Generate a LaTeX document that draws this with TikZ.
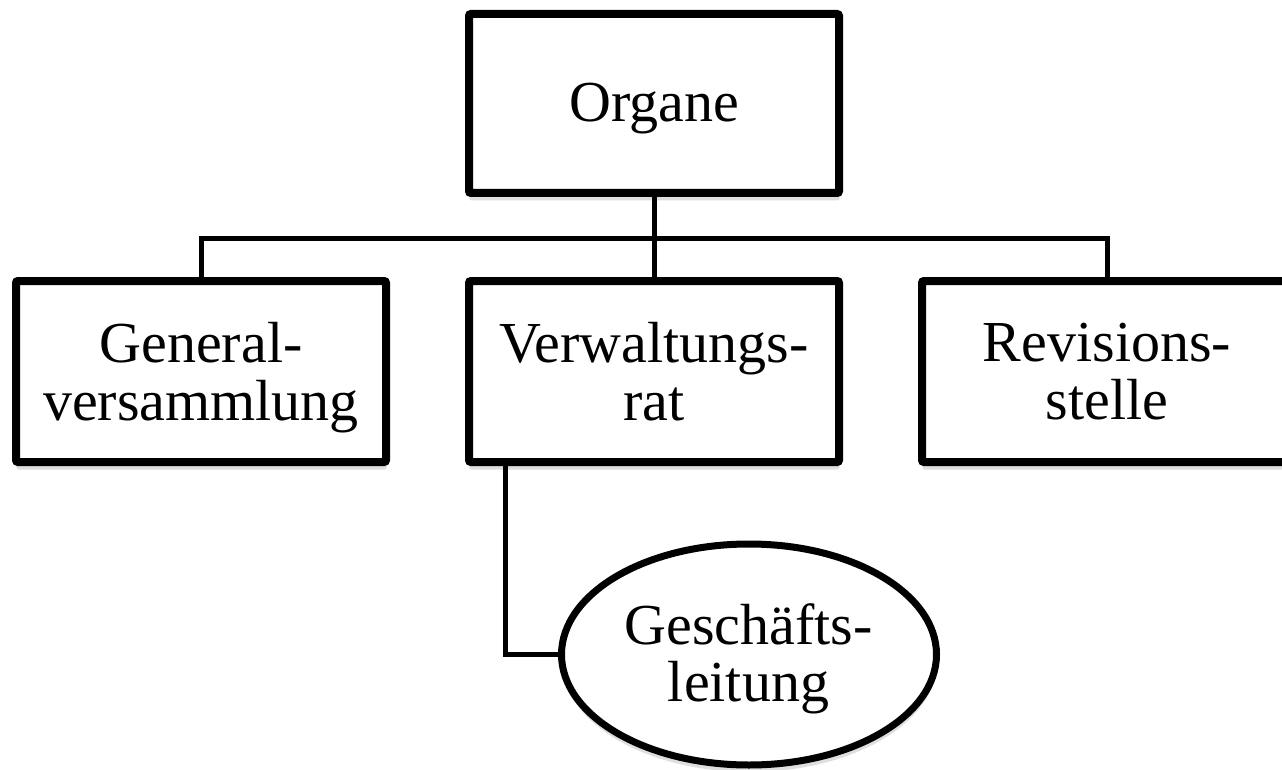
\documentclass[tikz,border=0pt]{standalone}
\usepackage{fontspec}
\setmainfont{Liberation Serif}
\usetikzlibrary{shapes.geometric,shadows,calc}
\tikzset{
  orgbox/.style={draw=black, fill=white, line width=8pt, rounded corners=2pt, outer sep=0pt, inner sep=0pt,
    minimum width=370pt, minimum height=181pt, align=center,
    font=\fontsize{58}{58}\selectfont,
    drop shadow={shadow xshift=0.5pt, shadow yshift=-7.5pt, opacity=0.25}},
  orgell/.style={draw=black, fill=white, ellipse, line width=7pt, outer sep=0pt, inner sep=0pt,
    minimum width=375pt, minimum height=221pt,
    drop shadow={shadow xshift=0.5pt, shadow yshift=-7pt, opacity=0.25}},
  orgtext/.style={align=center, inner sep=0pt, font=\fontsize{58}{57}\selectfont},
  link/.style={draw=black, line width=5pt}
}
\begin{document}
\begin{tikzpicture}[x=1pt, y=-1pt]
\useasboundingbox (0,0) rectangle (1282,770);
\clip (0,0) rectangle (1282,770);
\fill[white] (0,0) rectangle (1282,770);
\coordinate (bus) at (654,238.5);
\node[orgbox, minimum height=179pt, text depth=3pt] (O) at (654,103.5) {Organe};
\node[orgbox] (GV) at (201,371.5) {General-\\\smash{versammlung}};
\node[orgbox] (VR) at (654,371.5) {Verwaltungs-\\\smash{rat}};
\node[orgbox] (RS) at (1107,371.5) {Revisions-\\\smash{stelle}};
\node[orgell] (GL) at (749,654.5) {};
\node[orgtext] (GLtext) at (748.5,659) {Gesch\"afts-\\leitung};
\coordinate (vrdrop) at ($(VR.south west)+(36,0)$);
\draw[link] (O.south) -- (bus);
\draw[link] (GV.north) |- (bus) -| (RS.north);
\draw[link] (bus) -- (VR.north);
\draw[link, line join=miter] (vrdrop) |- (GL.west);
\end{tikzpicture}
\end{document}
